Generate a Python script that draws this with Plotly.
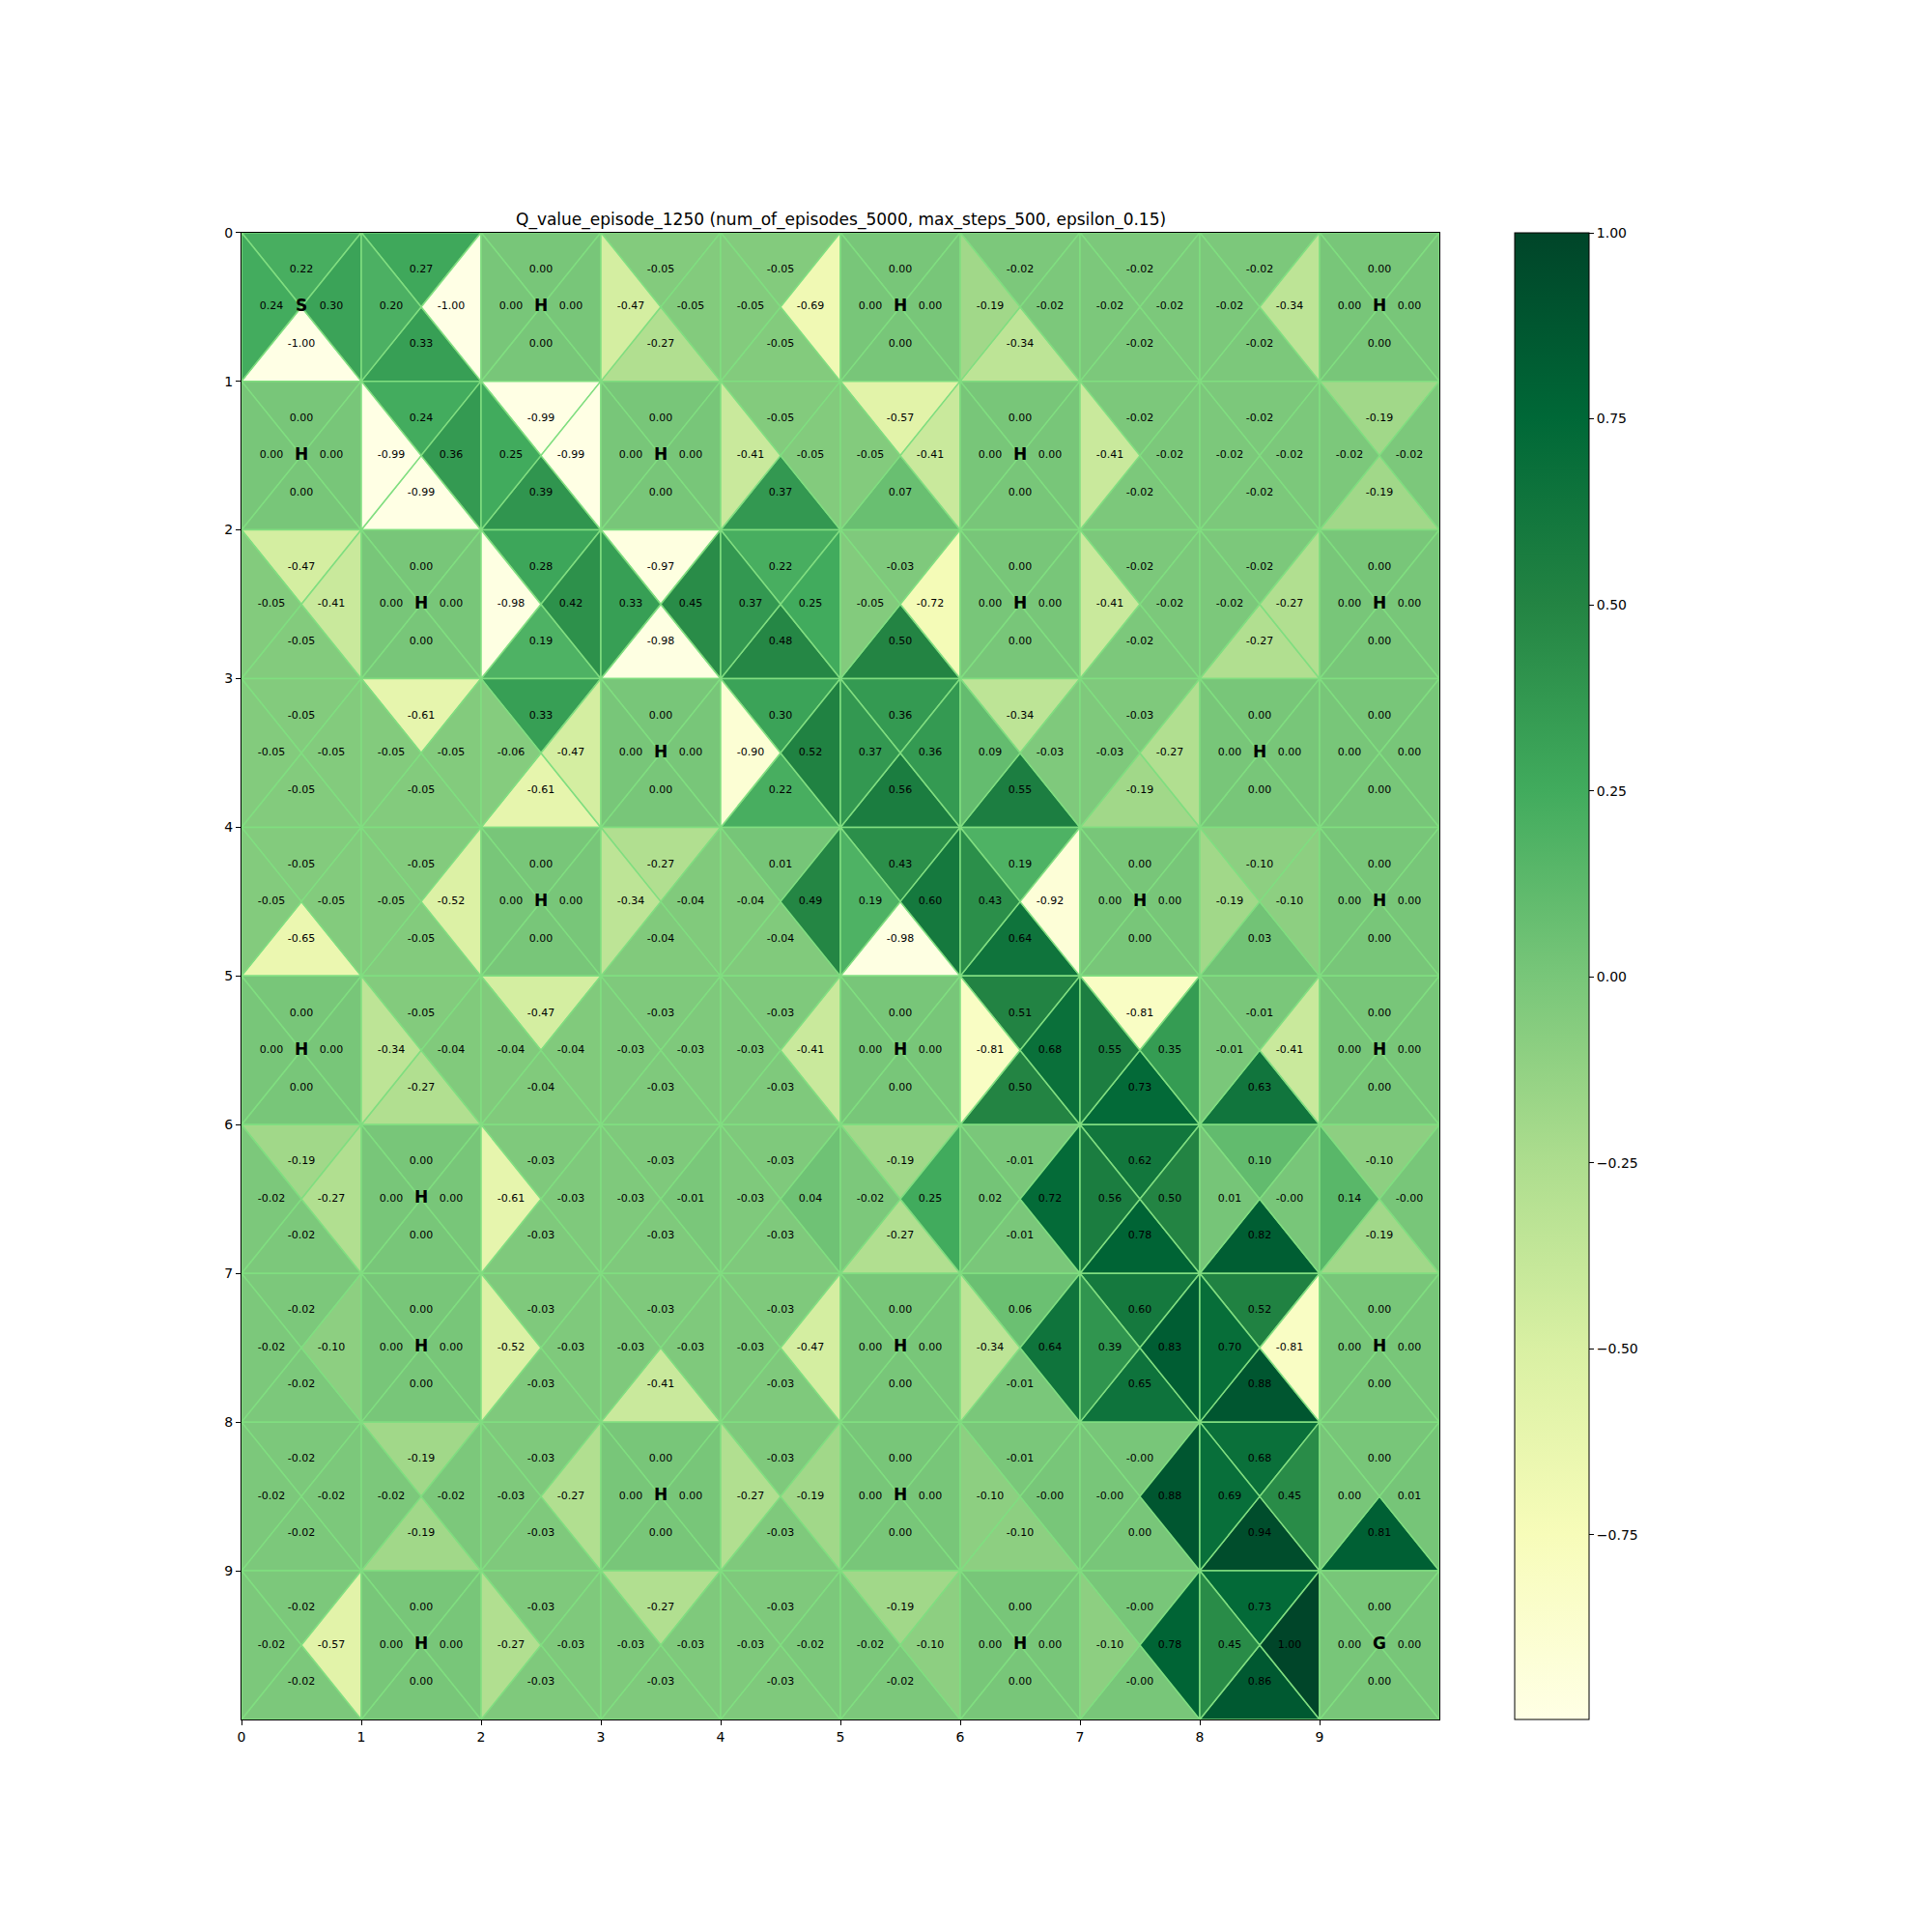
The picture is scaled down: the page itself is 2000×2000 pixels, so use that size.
import plotly.graph_objects as go
from plotly.colors import sample_colorscale, sequential

TITLE = "Q_value_episode_1250 (num_of_episodes_5000, max_steps_500, epsilon_0.15)"

# Q values per action, rows 0..9 (top to bottom), columns 0..9 (left to right)
Q_UP = [
    [0.22, 0.27, 0.00, -0.05, -0.05, 0.00, -0.02, -0.02, -0.02, 0.00],
    [0.00, 0.24, -0.99, 0.00, -0.05, -0.57, 0.00, -0.02, -0.02, -0.19],
    [-0.47, 0.00, 0.28, -0.97, 0.22, -0.03, 0.00, -0.02, -0.02, 0.00],
    [-0.05, -0.61, 0.33, 0.00, 0.30, 0.36, -0.34, -0.03, 0.00, 0.00],
    [-0.05, -0.05, 0.00, -0.27, 0.01, 0.43, 0.19, 0.00, -0.10, 0.00],
    [0.00, -0.05, -0.47, -0.03, -0.03, 0.00, 0.51, -0.81, -0.01, 0.00],
    [-0.19, 0.00, -0.03, -0.03, -0.03, -0.19, -0.01, 0.62, 0.10, -0.10],
    [-0.02, 0.00, -0.03, -0.03, -0.03, 0.00, 0.06, 0.60, 0.52, 0.00],
    [-0.02, -0.19, -0.03, 0.00, -0.03, 0.00, -0.01, -0.0, 0.68, 0.00],
    [-0.02, 0.00, -0.03, -0.27, -0.03, -0.19, 0.00, -0.0, 0.73, 0.00],
]
Q_LEFT = [
    [0.24, 0.20, 0.00, -0.47, -0.05, 0.00, -0.19, -0.02, -0.02, 0.00],
    [0.00, -0.99, 0.25, 0.00, -0.41, -0.05, 0.00, -0.41, -0.02, -0.02],
    [-0.05, 0.00, -0.98, 0.33, 0.37, -0.05, 0.00, -0.41, -0.02, 0.00],
    [-0.05, -0.05, -0.06, 0.00, -0.90, 0.37, 0.09, -0.03, 0.00, 0.00],
    [-0.05, -0.05, 0.00, -0.34, -0.04, 0.19, 0.43, 0.00, -0.19, 0.00],
    [0.00, -0.34, -0.04, -0.03, -0.03, 0.00, -0.81, 0.55, -0.01, 0.00],
    [-0.02, 0.00, -0.61, -0.03, -0.03, -0.02, 0.02, 0.56, 0.01, 0.14],
    [-0.02, 0.00, -0.52, -0.03, -0.03, 0.00, -0.34, 0.39, 0.70, 0.00],
    [-0.02, -0.02, -0.03, 0.00, -0.27, 0.00, -0.10, -0.0, 0.69, 0.00],
    [-0.02, 0.00, -0.27, -0.03, -0.03, -0.02, 0.00, -0.10, 0.45, 0.00],
]
Q_RIGHT = [
    [0.30, -1.00, 0.00, -0.05, -0.69, 0.00, -0.02, -0.02, -0.34, 0.00],
    [0.00, 0.36, -0.99, 0.00, -0.05, -0.41, 0.00, -0.02, -0.02, -0.02],
    [-0.41, 0.00, 0.42, 0.45, 0.25, -0.72, 0.00, -0.02, -0.27, 0.00],
    [-0.05, -0.05, -0.47, 0.00, 0.52, 0.36, -0.03, -0.27, 0.00, 0.00],
    [-0.05, -0.52, 0.00, -0.04, 0.49, 0.60, -0.92, 0.00, -0.10, 0.00],
    [0.00, -0.04, -0.04, -0.03, -0.41, 0.00, 0.68, 0.35, -0.41, 0.00],
    [-0.27, 0.00, -0.03, -0.01, 0.04, 0.25, 0.72, 0.50, -0.0, -0.0],
    [-0.10, 0.00, -0.03, -0.03, -0.47, 0.00, 0.64, 0.83, -0.81, 0.00],
    [-0.02, -0.02, -0.27, 0.00, -0.19, 0.00, -0.0, 0.88, 0.45, 0.01],
    [-0.57, 0.00, -0.03, -0.03, -0.02, -0.10, 0.00, 0.78, 1.00, 0.00],
]
Q_DOWN = [
    [-1.00, 0.33, 0.00, -0.27, -0.05, 0.00, -0.34, -0.02, -0.02, 0.00],
    [0.00, -0.99, 0.39, 0.00, 0.37, 0.07, 0.00, -0.02, -0.02, -0.19],
    [-0.05, 0.00, 0.19, -0.98, 0.48, 0.50, 0.00, -0.02, -0.27, 0.00],
    [-0.05, -0.05, -0.61, 0.00, 0.22, 0.56, 0.55, -0.19, 0.00, 0.00],
    [-0.65, -0.05, 0.00, -0.04, -0.04, -0.98, 0.64, 0.00, 0.03, 0.00],
    [0.00, -0.27, -0.04, -0.03, -0.03, 0.00, 0.50, 0.73, 0.63, 0.00],
    [-0.02, 0.00, -0.03, -0.03, -0.03, -0.27, -0.01, 0.78, 0.82, -0.19],
    [-0.02, 0.00, -0.03, -0.41, -0.03, 0.00, -0.01, 0.65, 0.88, 0.00],
    [-0.02, -0.19, -0.03, 0.00, -0.03, 0.00, -0.10, 0.00, 0.94, 0.81],
    [-0.02, 0.00, -0.03, -0.03, -0.03, -0.02, 0.00, -0.0, 0.86, 0.00],
]
CELL_LABELS = [
    ["S", "", "H", "", "", "H", "", "", "", "H"],
    ["H", "", "", "H", "", "", "H", "", "", ""],
    ["", "H", "", "", "", "", "H", "", "", "H"],
    ["", "", "", "H", "", "", "", "", "H", ""],
    ["", "", "H", "", "", "", "", "H", "", "H"],
    ["H", "", "", "", "", "H", "", "", "", "H"],
    ["", "H", "", "", "", "", "", "", "", ""],
    ["", "H", "", "", "", "H", "", "", "", "H"],
    ["", "", "", "H", "", "H", "", "", "", ""],
    ["", "H", "", "", "", "", "H", "", "", "G"],
]
CBAR_TICKS = [-0.75, -0.50, -0.25, 0.00, 0.25, 0.50, 0.75, 1.00]
AXIS_TICKS = list(range(10))

VMIN, VMAX = -0.998, 1.0
CSCALE = sequential.YlGn
EDGE = "rgb(128,222,128)"
FONT = "DejaVu Sans"


def color_of(v):
    t = (v - VMIN) / (VMAX - VMIN)
    t = min(max(t, 0.0), 1.0)
    return sample_colorscale(CSCALE, [t])[0]


fig = go.Figure()

n_rows = len(Q_UP)
n_cols = len(Q_UP[0])
tx, ty, tt = [], [], []
lx, ly, lt = [], [], []
for r in range(n_rows):
    for c in range(n_cols):
        cx, cy = c + 0.5, r + 0.5
        tris = [
            (Q_UP[r][c], [c, c + 1, cx, c], [r, r, cy, r], (cx, r + 0.25)),
            (Q_DOWN[r][c], [c, c + 1, cx, c], [r + 1, r + 1, cy, r + 1], (cx, r + 0.75)),
            (Q_LEFT[r][c], [c, c, cx, c], [r, r + 1, cy, r], (c + 0.25, cy)),
            (Q_RIGHT[r][c], [c + 1, c + 1, cx, c + 1], [r, r + 1, cy, r], (c + 0.75, cy)),
        ]
        for v, xs, ys, (px, py) in tris:
            fig.add_trace(go.Scatter(
                x=xs, y=ys, mode="lines", fill="toself",
                fillcolor=color_of(v), line=dict(color=EDGE, width=1.5),
                hoverinfo="skip", showlegend=False,
            ))
            tx.append(px)
            ty.append(py)
            tt.append("%.2f" % v)
        if CELL_LABELS[r][c]:
            lx.append(cx)
            ly.append(cy)
            lt.append("<b>%s</b>" % CELL_LABELS[r][c])

fig.add_trace(go.Scatter(
    x=tx, y=ty, text=tt, mode="text",
    textfont=dict(family=FONT, size=11, color="black"),
    hoverinfo="skip", showlegend=False,
))
fig.add_trace(go.Scatter(
    x=lx, y=ly, text=lt, mode="text",
    textfont=dict(family=FONT, size=17, color="black"),
    hoverinfo="skip", showlegend=False,
))

# colorbar carrier
fig.add_trace(go.Scatter(
    x=[0.5], y=[0.5], mode="markers",
    marker=dict(
        size=0.1, opacity=0, color=[0.0], colorscale=CSCALE, cmin=VMIN, cmax=VMAX,
        showscale=True,
        colorbar=dict(
            x=1568 / 2000, xanchor="left", xref="paper",
            y=0.11, yanchor="bottom", yref="paper",
            len=0.7697, lenmode="fraction",
            thickness=77, thicknessmode="pixels",
            outlinewidth=1, outlinecolor="black",
            ticks="outside", ticklen=5, tickwidth=1, tickcolor="black",
            tickvals=CBAR_TICKS,
            ticktext=[("%.2f" % t).replace("-", "\u2212") for t in CBAR_TICKS],
            tickfont=dict(family=FONT, size=14, color="black"),
            xpad=0, ypad=0,
        ),
    ),
    hoverinfo="skip", showlegend=False,
))

axis_common = dict(
    showgrid=False, zeroline=False, showline=True, linecolor="black", linewidth=1,
    mirror=True, ticks="outside", ticklen=5, tickwidth=1, tickcolor="black",
    tickvals=AXIS_TICKS, ticktext=[str(t) for t in AXIS_TICKS],
    tickfont=dict(family=FONT, size=14, color="black"),
    automargin=False,
)
fig.update_layout(
    width=2000, height=2000,
    margin=dict(l=0, r=0, t=0, b=0, pad=0, autoexpand=False),
    paper_bgcolor="white", plot_bgcolor="white",
    xaxis=dict(domain=[0.125, 0.745], range=[0, 10], **axis_common),
    yaxis=dict(domain=[0.11, 0.87965], range=[10, 0], **axis_common),
    font=dict(family=FONT),
    annotations=[dict(
        text=TITLE, x=0.435, y=1 - 240 / 2000, xref="paper", yref="paper",
        xanchor="center", yanchor="bottom", showarrow=False,
        font=dict(family=FONT, size=17, color="black"),
    )],
)

fig.write_html("out.html")
